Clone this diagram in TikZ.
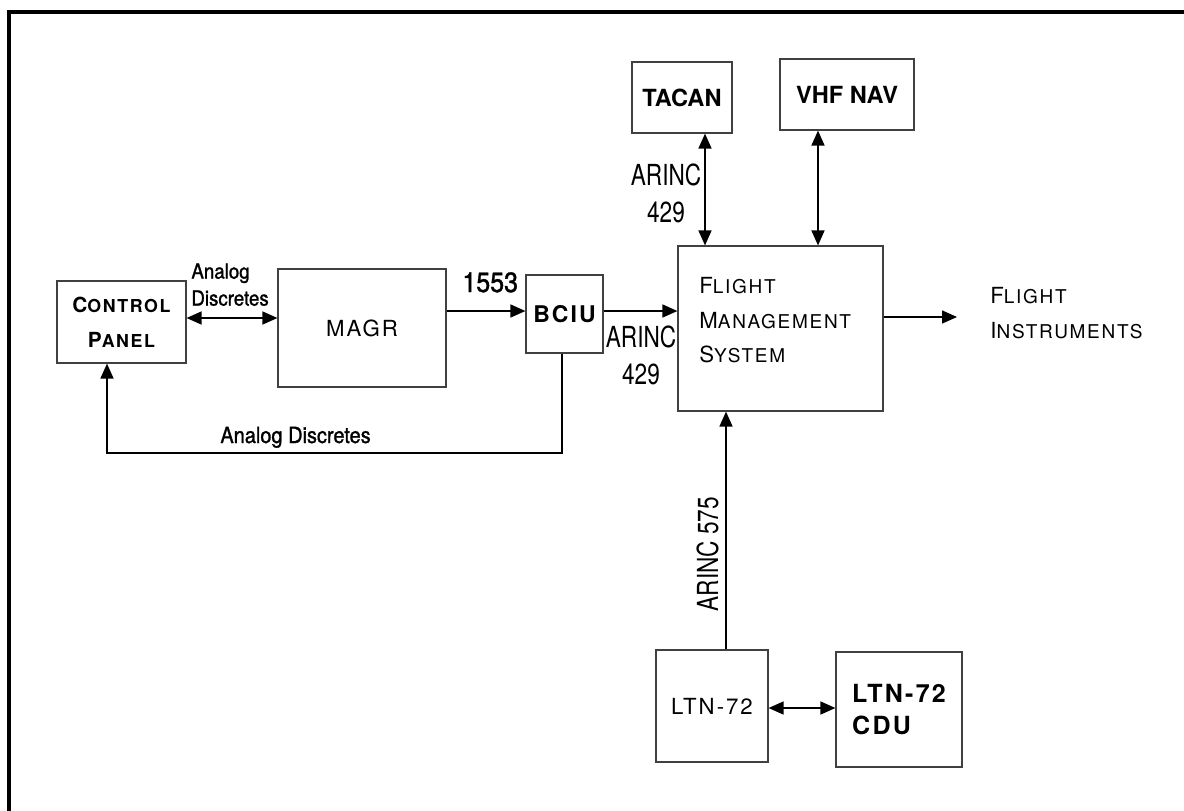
\documentclass[tikz,border=0pt]{standalone}
\usepackage{fontspec}
\setmainfont{TeX Gyre Heros}
\newfontfamily\widefont[LetterSpace=9]{TeX Gyre Heros}
\newfontfamily\narrowfont[FakeStretch=0.9,FakeBold=1.2]{TeX Gyre Heros}
\newfontfamily\condfont[FakeStretch=0.78]{TeX Gyre Heros}
\usetikzlibrary{arrows.meta,positioning,calc}
% initial capital, rest in smaller capitals
\newcommand\smcaps[3]{#2{\fontsize{#1}{0pt}\selectfont#3}}

\tikzset{
  unit/.style={draw=black!75,line width=0.6pt,inner sep=0pt,align=center},
  flow/.style={line width=0.75pt,-{Triangle[length=7.5pt,width=6.5pt]}},
  duplex/.style={line width=0.75pt,{Triangle[length=7.5pt,width=6.5pt]}-{Triangle[length=7.5pt,width=6.5pt]}},
  bus/.style={inner sep=0pt,align=center,font=\condfont\fontsize{14.5}{18.5}\selectfont},
}

\begin{document}
\begin{tikzpicture}[x=0.5pt,y=-0.5pt,line cap=butt]
  \useasboundingbox (0,0) rectangle (1184,810);
  \draw[line width=2pt] (9,812) -- (9,12) -- (1190,12);
  % units
  \node[unit,minimum width=64.5pt,minimum height=41pt,font=\widefont\bfseries\fontsize{10.4}{17.5}\selectfont] (cp) at (121.5,322) {\smcaps{8.9}{C}{ONTROL}\\\smcaps{8.9}{P}{ANEL}};
  \node[unit,minimum width=84pt,minimum height=59pt,font=\widefont\fontsize{11.1}{13}\selectfont] (magr) at (362,328) {MAGR};
  \node[unit,minimum width=38.5pt,minimum height=39pt,font=\widefont\bfseries\fontsize{11.5}{13}\selectfont] (bciu) at (564.5,314) {BCIU};
  \node[unit,minimum width=102.5pt,minimum height=82.5pt] (fms) at (780.5,328.5) {};
  \node[inner sep=0pt,anchor=north west,align=left,font=\widefont\fontsize{11.1}{17.25}\selectfont] (fmstext) at (699,277) {\smcaps{9.5}{F}{LIGHT}\\\smcaps{9.5}{M}{ANAGEMENT}\\\smcaps{9.5}{S}{YSTEM}};
  \node[unit,minimum width=50pt,minimum height=35.5pt,font=\bfseries\fontsize{11.8}{14}\selectfont] (tacan) at (682,97.5) {TACAN};
  \node[unit,minimum width=67pt,minimum height=35.5pt,font=\bfseries\fontsize{11.8}{14}\selectfont] (vhf) at (847,94.5) {VHF NAV};
  \node[unit,minimum width=56pt,minimum height=56pt,font=\widefont\fontsize{11.1}{13}\selectfont] (ltn) at (712,706) {LTN-72};
  \node[unit,align=left,minimum width=63pt,minimum height=57.5pt,font=\widefont\bfseries\fontsize{12.5}{16}\selectfont] (cdu) at (899,709.5) {LTN-72\\CDU};
  % labels
  \node[inner sep=0pt,anchor=north west,align=left,font=\narrowfont\fontsize{10.4}{13.5}\selectfont] (analogtop) at (191,263) {Analog\\Discretes};
  \node[inner sep=0pt,anchor=base west,font=\narrowfont\fontsize{11.1}{13}\selectfont] (analogloop) at (220,443) {Analog Discretes};
  \node[inner sep=0pt,anchor=base west,font=\narrowfont\fontsize{13.9}{16}\selectfont] (milbus) at (462,292) {1553};
  \node[bus,anchor=north] (arincfms) at (641,325) {ARINC\\429};
  \node[bus,anchor=north] (arinctacan) at (666,163) {ARINC\\429};
  \node[bus,rotate=90,anchor=south] (arincltn) at (719,554) {ARINC 575};
  \node[inner sep=0pt,anchor=north west,align=left,font=\widefont\fontsize{11.1}{17.5}\selectfont] (instr) at (990,287) {\smcaps{9.5}{F}{LIGHT}\\\smcaps{9.5}{I}{NSTRUMENTS}};
  % connectors
  \coordinate (instrin) at (957,317);
  \coordinate (loop) at (107,453);
  \draw[duplex] ([yshift=2pt]cp.east) -- ([yshift=2pt]cp.east -| magr.west);
  \draw[flow] ([yshift=8.5pt]magr.east) -- ([yshift=8.5pt]magr.east -| bciu.west);
  \draw[flow] ([yshift=1.5pt]bciu.east) -- ([yshift=1.5pt]bciu.east -| fms.west);
  \draw[duplex] ([xshift=11.5pt]tacan.south) -- ([xshift=11.5pt]tacan.south |- fms.north);
  \draw[duplex] ([xshift=-14.5pt]vhf.south) -- ([xshift=-14.5pt]vhf.south |- fms.north);
  \draw[flow] (fms.east |- instrin) -- (instrin);
  \draw[flow] ([xshift=7pt]ltn.north) -- ([xshift=7pt]ltn.north |- fms.south);
  \draw[duplex] ([yshift=-1pt]ltn.east) -- ([yshift=-1pt]ltn.east -| cdu.west);
  \draw[flow] ([xshift=-1.25pt]bciu.south) |- (loop) -- (loop |- cp.south);
\end{tikzpicture}
\end{document}
